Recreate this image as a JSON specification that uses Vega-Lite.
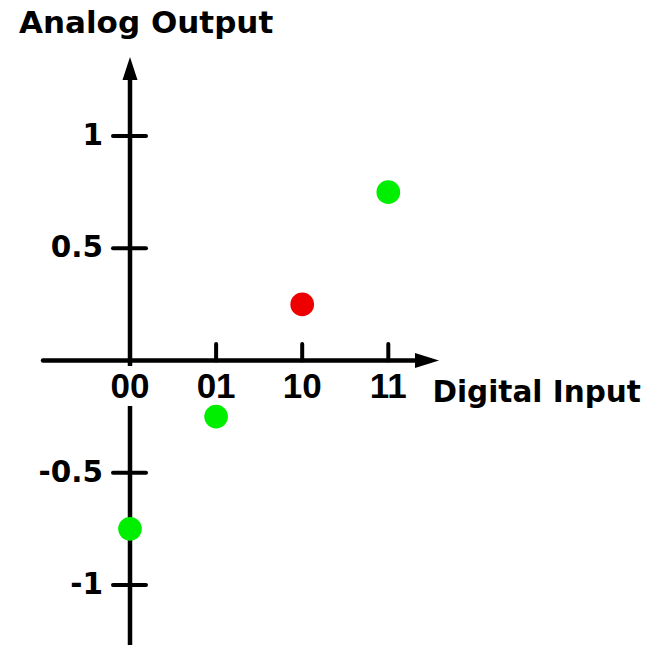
{
  "$schema": "https://vega.github.io/schema/vega-lite/v6.json",
  "width": 654,
  "height": 645,
  "padding": 0,
  "autosize": {"type": "none"},
  "background": "white",
  "config": {"view": {"stroke": null}},
  "datasets": {
    "points": [
      {"code": "00", "idx": 0, "value": -0.75, "group": "normal"},
      {"code": "01", "idx": 1, "value": -0.25, "group": "normal"},
      {"code": "10", "idx": 2, "value": 0.25, "group": "highlight"},
      {"code": "11", "idx": 3, "value": 0.75, "group": "normal"}
    ],
    "yticks": [
      {"v": 1, "label": "1"},
      {"v": 0.5, "label": "0.5"},
      {"v": -0.5, "label": "-0.5"},
      {"v": -1, "label": "-1"}
    ],
    "xticks": [
      {"idx": 0, "label": "00"},
      {"idx": 1, "label": "01"},
      {"idx": 2, "label": "10"},
      {"idx": 3, "label": "11"}
    ],
    "one": [{}]
  },
  "layer": [
    {
      "data": {"name": "one"},
      "mark": {"type": "rule", "color": "black", "strokeWidth": 4.5, "strokeCap": "round"},
      "encoding": {
        "x": {"datum": 0, "type": "quantitative", "scale": {"domain": [-1.5099, 6.0859], "nice": false, "zero": false}, "axis": null},
        "y": {"datum": -1.35, "type": "quantitative", "scale": {"domain": [-1.2678, 1.6065], "nice": false, "zero": false}, "axis": null},
        "y2": {"datum": 1.25}
      }
    },
    {
      "data": {"name": "one"},
      "mark": {"type": "rule", "color": "black", "strokeWidth": 4.5, "strokeCap": "round"},
      "encoding": {
        "x": {"datum": -1.0104, "type": "quantitative", "scale": {"domain": [-1.5099, 6.0859], "nice": false, "zero": false}, "axis": null},
        "x2": {"datum": 3.31},
        "y": {"datum": 0, "type": "quantitative", "scale": {"domain": [-1.2678, 1.6065], "nice": false, "zero": false}, "axis": null}
      }
    },
    {
      "data": {"name": "one"},
      "mark": {"type": "point", "filled": true, "color": "black", "opacity": 1, "strokeWidth": 0, "size": 2116, "shape": "M0,-1L0.326,0L-0.326,0Z"},
      "encoding": {
        "x": {"datum": 0, "type": "quantitative", "scale": {"domain": [-1.5099, 6.0859], "nice": false, "zero": false}, "axis": null},
        "y": {"datum": 1.25, "type": "quantitative", "scale": {"domain": [-1.2678, 1.6065], "nice": false, "zero": false}, "axis": null}
      }
    },
    {
      "data": {"name": "one"},
      "mark": {"type": "point", "filled": true, "color": "black", "opacity": 1, "strokeWidth": 0, "size": 2304, "shape": "M1,0L0,-0.3125L0,0.3125Z"},
      "encoding": {
        "x": {"datum": 3.31, "type": "quantitative", "scale": {"domain": [-1.5099, 6.0859], "nice": false, "zero": false}, "axis": null},
        "y": {"datum": 0, "type": "quantitative", "scale": {"domain": [-1.2678, 1.6065], "nice": false, "zero": false}, "axis": null}
      }
    },
    {
      "data": {"name": "yticks"},
      "mark": {"type": "rule", "color": "black", "strokeWidth": 4, "strokeCap": "round"},
      "encoding": {
        "x": {"datum": -0.1974, "type": "quantitative", "scale": {"domain": [-1.5099, 6.0859], "nice": false, "zero": false}, "axis": null},
        "x2": {"datum": 0.1858},
        "y": {"field": "v", "type": "quantitative", "scale": {"domain": [-1.2678, 1.6065], "nice": false, "zero": false}, "axis": null}
      }
    },
    {
      "data": {"name": "yticks"},
      "mark": {"type": "text", "align": "right", "baseline": "middle", "font": "DejaVu Sans", "fontWeight": "bold", "fontSize": 29.5, "color": "black"},
      "encoding": {
        "x": {"datum": -0.3136, "type": "quantitative", "scale": {"domain": [-1.5099, 6.0859], "nice": false, "zero": false}, "axis": null},
        "y": {"field": "v", "type": "quantitative", "scale": {"domain": [-1.2678, 1.6065], "nice": false, "zero": false}, "axis": null},
        "text": {"field": "label"}
      }
    },
    {
      "data": {"name": "xticks"},
      "mark": {"type": "rule", "color": "black", "strokeWidth": 4, "strokeCap": "round"},
      "encoding": {
        "x": {"field": "idx", "type": "quantitative", "scale": {"domain": [-1.5099, 6.0859], "nice": false, "zero": false}, "axis": null},
        "y": {"datum": 0, "type": "quantitative", "scale": {"domain": [-1.2678, 1.6065], "nice": false, "zero": false}, "axis": null},
        "y2": {"datum": 0.0735}
      }
    },
    {
      "data": {"name": "xticks"},
      "mark": {"type": "point", "shape": "square", "filled": true, "color": "white", "opacity": 1, "strokeWidth": 0, "size": 1600},
      "encoding": {
        "x": {"field": "idx", "type": "quantitative", "scale": {"domain": [-1.5099, 6.0859], "nice": false, "zero": false}, "axis": null},
        "y": {"datum": -0.1136, "type": "quantitative", "scale": {"domain": [-1.2678, 1.6065], "nice": false, "zero": false}, "axis": null}
      }
    },
    {
      "data": {"name": "xticks"},
      "mark": {"type": "text", "align": "center", "baseline": "alphabetic", "font": "Liberation Sans", "fontWeight": "bold", "fontSize": 35, "color": "black"},
      "encoding": {
        "x": {"field": "idx", "type": "quantitative", "scale": {"domain": [-1.5099, 6.0859], "nice": false, "zero": false}, "axis": null},
        "y": {"datum": -0.169, "type": "quantitative", "scale": {"domain": [-1.2678, 1.6065], "nice": false, "zero": false}, "axis": null},
        "text": {"field": "label"}
      }
    },
    {
      "data": {"name": "points"},
      "mark": {"type": "point", "filled": true, "opacity": 1, "strokeWidth": 0, "size": 560},
      "encoding": {
        "x": {"field": "idx", "type": "quantitative", "scale": {"domain": [-1.5099, 6.0859], "nice": false, "zero": false}, "axis": null},
        "y": {"field": "value", "type": "quantitative", "scale": {"domain": [-1.2678, 1.6065], "nice": false, "zero": false}, "axis": null},
        "color": {"field": "group", "type": "nominal", "scale": {"domain": ["normal", "highlight"], "range": ["#00ee00", "#ee0000"]}, "legend": null}
      }
    },
    {
      "data": {"values": [{"t": "Analog Output"}]},
      "mark": {"type": "text", "align": "left", "baseline": "alphabetic", "font": "DejaVu Sans", "fontWeight": "bold", "fontSize": 31, "color": "black"},
      "encoding": {
        "x": {"datum": -1.2892, "type": "quantitative", "scale": {"domain": [-1.5099, 6.0859], "nice": false, "zero": false}, "axis": null},
        "y": {"datum": 1.4595, "type": "quantitative", "scale": {"domain": [-1.2678, 1.6065], "nice": false, "zero": false}, "axis": null},
        "text": {"field": "t"}
      }
    },
    {
      "data": {"values": [{"t": "Digital Input"}]},
      "mark": {"type": "text", "align": "left", "baseline": "alphabetic", "font": "DejaVu Sans", "fontWeight": "bold", "fontSize": 29.5, "color": "black"},
      "encoding": {
        "x": {"datum": 3.5134, "type": "quantitative", "scale": {"domain": [-1.5099, 6.0859], "nice": false, "zero": false}, "axis": null},
        "y": {"datum": -0.1849, "type": "quantitative", "scale": {"domain": [-1.2678, 1.6065], "nice": false, "zero": false}, "axis": null},
        "text": {"field": "t"}
      }
    }
  ]
}
